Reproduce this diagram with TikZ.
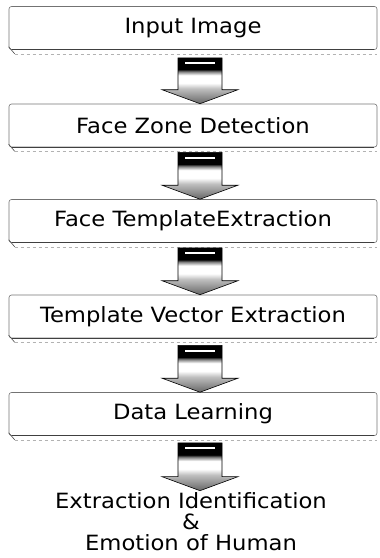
\documentclass[tikz,border=0pt]{standalone}
\usepackage{fontspec}
\setmainfont{DejaVu Sans}[FakeStretch=1.08]
\usetikzlibrary{calc}
\pgfdeclareverticalshading{arrshade}{100bp}{color(0bp)=(black!60); color(25bp)=(black!60); color(41.5bp)=(black!25); color(47.5bp)=(white); color(56bp)=(white); color(60bp)=(black!50); color(62.5bp)=(black); color(75bp)=(black); color(100bp)=(black)}
\tikzset{
  stepbox/.style={draw=black!55, line width=0.6pt, rounded corners=2.5pt,
    minimum width=368pt, minimum height=43pt, inner sep=0pt,
    font=\fontsize{21}{24}\selectfont},
  finaltext/.style={align=center, inner sep=0pt, font=\fontsize{21}{21}\selectfont},
  blockarr/.style={shading=arrshade, draw=black, line width=0.6pt},
}
% #1 = top point of shaft, #2 = tip point
\newcommand\blockarrow[2]{%
  \path[blockarr] let \p1=#1, \p2=#2 in
    (\x1-22pt,\y1) -- (\x1+22pt,\y1) -- (\x1+22pt,\y2+14pt) -- (\x1+38pt,\y2+14pt)
    -- (\x2,\y2) -- (\x1-38pt,\y2+14pt) -- (\x1-22pt,\y2+14pt) -- cycle;
  \fill[white] let \p1=#1 in (\x1-15pt,\y1-4.5pt) rectangle (\x1+15pt,\y1-6.5pt);
}
\newcommand\boxdeco[1]{%
  \draw[black!75, line width=0.8pt] ($(#1.south west)+(3pt,0)$) -- ($(#1.south east)+(-3pt,0)$);
  \draw[black!30, line width=0.5pt, dashed] ($(#1.south west)+(6pt,-4pt)$) -- ($(#1.south east)+(0,-4pt)$);
  \draw[black!70, line width=0.6pt] ($(#1.south west)+(0,3pt)$) -- ($(#1.south west)+(6pt,-4pt)$);
}
\begin{document}
\begin{tikzpicture}[x=1pt,y=1pt]
\useasboundingbox (0,0) rectangle (380,-558);
\node[stepbox] (b1) at (193,-28) {Input Image};
\node[stepbox] (b2) at (193,-125.5) {Face Zone Detection};
\node[stepbox] (b3) at (193,-221) {Face TemplateExtraction};
\node[stepbox] (b4) at (193,-316.5) {Template Vector Extraction};
\node[stepbox] (b5) at (193,-414) {Data Learning};
\node[finaltext] (out) at (191,-522) {Extraction Identification\\\&\\Emotion of Human};
\foreach \b in {b1,b2,b3,b4,b5} {\boxdeco{\b}}
\coordinate (a1s) at ($(b1.south)+(7,-8)$);
\coordinate (a1e) at ($(b2.north)+(7,-0)$);
\coordinate (a2s) at ($(b2.south)+(7,-5)$);
\coordinate (a2e) at ($(b3.north)+(7,-0)$);
\coordinate (a3s) at ($(b3.south)+(7,-5)$);
\coordinate (a3e) at ($(b4.north)+(7,0)$);
\coordinate (a4s) at ($(b4.south)+(7,-7)$);
\coordinate (a4e) at ($(b5.north)+(7,0)$);
\coordinate (a5s) at ($(b5.south)+(7,-7)$);
\coordinate (a5e) at ($(out.north)+(9,2)$);
\blockarrow{(a1s)}{(a1e)}
\blockarrow{(a2s)}{(a2e)}
\blockarrow{(a3s)}{(a3e)}
\blockarrow{(a4s)}{(a4e)}
\blockarrow{(a5s)}{(a5e)}
\end{tikzpicture}
\end{document}
